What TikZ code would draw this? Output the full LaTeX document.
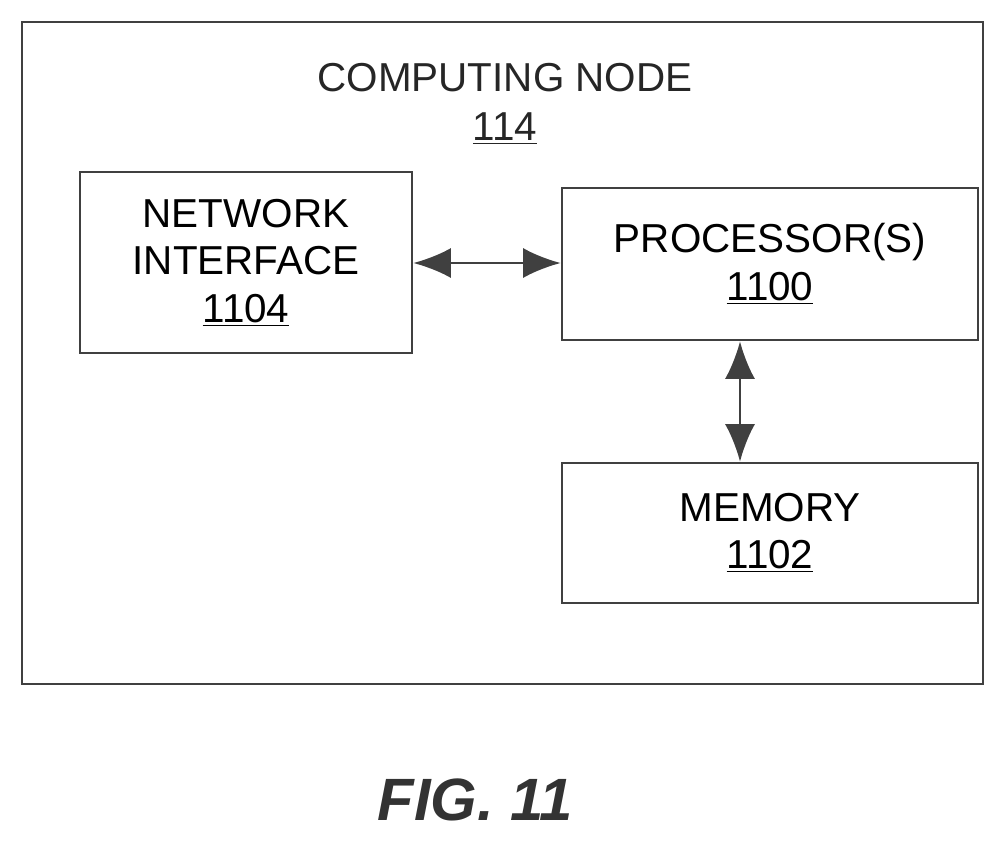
\documentclass[tikz,border=0pt]{standalone}
\usepackage{fontspec}
\setmainfont{Liberation Sans}
\usetikzlibrary{arrows.meta, positioning}

\begin{document}
\begin{tikzpicture}[
    x=0.02cm, y=-0.02cm,
    box/.style={draw=black!75, line width=1.5pt, rectangle, align=center, font=\fontsize{23}{27}\selectfont, inner sep=0pt},
    arrow/.style={{Latex[length=0.75cm,width=0.6cm]}-{Latex[length=0.75cm,width=0.6cm]}, line width=1.5pt, draw=black!75, fill=black!55}
]
\useasboundingbox (0,0) rectangle (1005,846);

% outer frame
\node[box, minimum width=961*0.02cm, minimum height=662*0.02cm] (frame) at (502.5,353) {};
\node[font=\fontsize{23}{28}\selectfont, align=center, text=black!85] (title) at (505,104) {COMPUTING NODE\\\underline{114}};

% blocks
\node[box, minimum width=332*0.02cm, minimum height=181*0.02cm] (netif) at (246,262.5) {NETWORK\\INTERFACE\\\underline{1104}};
\node[box, minimum width=416*0.02cm, minimum height=152*0.02cm] (proc) at (770,264) {PROCESSOR(S)\\\underline{1100}};
\node[box, minimum width=416*0.02cm, minimum height=140*0.02cm] (mem) at (770,533) {MEMORY\\\underline{1102}};

% connectors
\draw[arrow] (netif.east |- 0,263) -- (proc.west |- 0,263);
\draw[arrow] (proc.south -| 740,0) -- (mem.north -| 740,0);

\node[font=\fontsize{34}{40}\selectfont\bfseries\itshape, text=black!80] (fig) at (475,800) {FIG. 11};
\end{tikzpicture}
\end{document}
